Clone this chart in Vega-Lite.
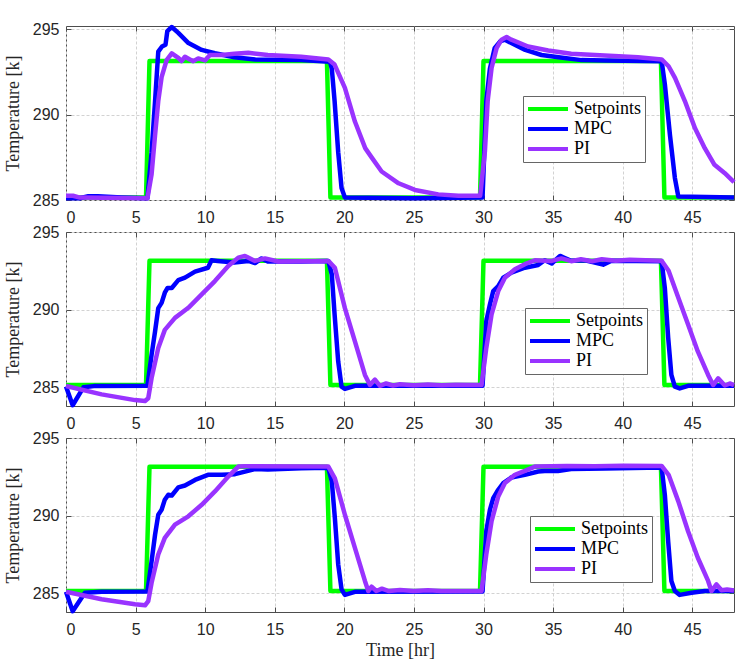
{
  "$schema": "https://vega.github.io/schema/vega-lite/v6.json",
  "padding": {"left": 3, "top": 20, "right": 10, "bottom": 5},
  "background": "white",
  "config": {
    "view": {"stroke": "#4d4d4d", "strokeWidth": 1},
    "axis": {
      "labelFont": "Liberation Sans",
      "labelFontSize": 16,
      "labelColor": "#262626",
      "titleFont": "Liberation Serif",
      "titleFontSize": 18,
      "titleFontWeight": "normal",
      "titleColor": "#262626",
      "grid": true,
      "gridDash": [3, 2],
      "gridColor": "#d2d2d2",
      "domain": false,
      "ticks": true,
      "tickSize": -5,
      "tickColor": "#4d4d4d"
    },
    "axisX": {"labelPadding": 14.5, "titlePadding": 4},
    "axisY": {"labelPadding": 12, "titlePadding": 10},
    "legend": {
      "title": null,
      "labelFont": "Liberation Serif",
      "labelFontSize": 18,
      "labelFontWeight": "normal",
      "labelColor": "black",
      "labelLimit": 200,
      "symbolType": "stroke",
      "symbolSize": 1600,
      "symbolStrokeWidth": 4,
      "fillColor": "white",
      "strokeColor": "#666666",
      "padding": 3,
      "clipHeight": 20,
      "rowPadding": 0,
      "labelOffset": 4
    }
  },
  "data": {
    "values": [
      {"p":1,"s":"Setpoints","t":0,"v":285.15},{"p":1,"s":"Setpoints","t":5.75,"v":285.15},{"p":1,"s":"Setpoints","t":6.0,"v":293.15},{"p":1,"s":"Setpoints","t":18.75,"v":293.15},{"p":1,"s":"Setpoints","t":19.0,"v":285.15},{"p":1,"s":"Setpoints","t":29.75,"v":285.15},{"p":1,"s":"Setpoints","t":30.0,"v":293.15},{"p":1,"s":"Setpoints","t":42.75,"v":293.15},{"p":1,"s":"Setpoints","t":43.0,"v":285.15},{"p":1,"s":"Setpoints","t":48,"v":285.15},

      {"p":1,"s":"MPC","t":0,"v":285.1},{"p":1,"s":"MPC","t":1.0,"v":285.1},{"p":1,"s":"MPC","t":1.6,"v":285.22},{"p":1,"s":"MPC","t":2.3,"v":285.22},{"p":1,"s":"MPC","t":4.0,"v":285.15},{"p":1,"s":"MPC","t":5.85,"v":285.1},{"p":1,"s":"MPC","t":6.15,"v":287.8},{"p":1,"s":"MPC","t":6.4,"v":290.8},{"p":1,"s":"MPC","t":6.63,"v":293.7},{"p":1,"s":"MPC","t":6.9,"v":294.0},{"p":1,"s":"MPC","t":7.15,"v":294.1},{"p":1,"s":"MPC","t":7.28,"v":294.9},{"p":1,"s":"MPC","t":7.6,"v":295.14},{"p":1,"s":"MPC","t":8.07,"v":294.8},{"p":1,"s":"MPC","t":8.8,"v":294.2},{"p":1,"s":"MPC","t":9.75,"v":293.8},{"p":1,"s":"MPC","t":10.7,"v":293.6},{"p":1,"s":"MPC","t":12.1,"v":293.37},{"p":1,"s":"MPC","t":13.6,"v":293.24},{"p":1,"s":"MPC","t":16.9,"v":293.2},{"p":1,"s":"MPC","t":18.97,"v":293.1},{"p":1,"s":"MPC","t":19.1,"v":292.7},{"p":1,"s":"MPC","t":19.3,"v":290.8},{"p":1,"s":"MPC","t":19.56,"v":287.8},{"p":1,"s":"MPC","t":19.8,"v":285.7},{"p":1,"s":"MPC","t":20.04,"v":285.14},{"p":1,"s":"MPC","t":25,"v":285.1},{"p":1,"s":"MPC","t":29.93,"v":285.14},{"p":1,"s":"MPC","t":30.2,"v":290.8},{"p":1,"s":"MPC","t":30.46,"v":292.7},{"p":1,"s":"MPC","t":30.8,"v":293.9},{"p":1,"s":"MPC","t":31.2,"v":294.3},{"p":1,"s":"MPC","t":31.54,"v":294.4},{"p":1,"s":"MPC","t":32.0,"v":294.2},{"p":1,"s":"MPC","t":33.0,"v":293.8},{"p":1,"s":"MPC","t":34.17,"v":293.5},{"p":1,"s":"MPC","t":35.4,"v":293.37},{"p":1,"s":"MPC","t":37.04,"v":293.2},{"p":1,"s":"MPC","t":38.7,"v":293.18},{"p":1,"s":"MPC","t":42.8,"v":293.14},{"p":1,"s":"MPC","t":43.03,"v":291.8},{"p":1,"s":"MPC","t":43.4,"v":288.8},{"p":1,"s":"MPC","t":43.75,"v":286.3},{"p":1,"s":"MPC","t":44.0,"v":285.2},{"p":1,"s":"MPC","t":48,"v":285.15},

      {"p":1,"s":"PI","t":0,"v":285.25},{"p":1,"s":"PI","t":0.5,"v":285.25},{"p":1,"s":"PI","t":1.0,"v":285.14},{"p":1,"s":"PI","t":5.85,"v":285.1},{"p":1,"s":"PI","t":6.15,"v":286.5},{"p":1,"s":"PI","t":6.4,"v":288.8},{"p":1,"s":"PI","t":6.63,"v":290.8},{"p":1,"s":"PI","t":6.87,"v":292.2},{"p":1,"s":"PI","t":7.23,"v":293.2},{"p":1,"s":"PI","t":7.6,"v":293.6},{"p":1,"s":"PI","t":8.07,"v":293.33},{"p":1,"s":"PI","t":8.3,"v":293.14},{"p":1,"s":"PI","t":8.55,"v":293.4},{"p":1,"s":"PI","t":8.9,"v":293.24},{"p":1,"s":"PI","t":9.15,"v":293.14},{"p":1,"s":"PI","t":9.5,"v":293.3},{"p":1,"s":"PI","t":9.99,"v":293.18},{"p":1,"s":"PI","t":10.34,"v":293.5},{"p":1,"s":"PI","t":11.2,"v":293.5},{"p":1,"s":"PI","t":12.1,"v":293.57},{"p":1,"s":"PI","t":13.1,"v":293.63},{"p":1,"s":"PI","t":14.5,"v":293.5},{"p":1,"s":"PI","t":16.9,"v":293.4},{"p":1,"s":"PI","t":18.85,"v":293.24},{"p":1,"s":"PI","t":19.3,"v":292.94},{"p":1,"s":"PI","t":20.04,"v":291.57},{"p":1,"s":"PI","t":20.76,"v":289.6},{"p":1,"s":"PI","t":21.5,"v":288.04},{"p":1,"s":"PI","t":21.96,"v":287.5},{"p":1,"s":"PI","t":22.68,"v":286.67},{"p":1,"s":"PI","t":23.9,"v":285.98},{"p":1,"s":"PI","t":25.07,"v":285.59},{"p":1,"s":"PI","t":26.75,"v":285.33},{"p":1,"s":"PI","t":28.2,"v":285.25},{"p":1,"s":"PI","t":29.76,"v":285.25},{"p":1,"s":"PI","t":30.1,"v":287.84},{"p":1,"s":"PI","t":30.3,"v":290.8},{"p":1,"s":"PI","t":30.58,"v":292.74},{"p":1,"s":"PI","t":30.94,"v":293.9},{"p":1,"s":"PI","t":31.3,"v":294.4},{"p":1,"s":"PI","t":31.66,"v":294.55},{"p":1,"s":"PI","t":32.0,"v":294.4},{"p":1,"s":"PI","t":33.2,"v":294.0},{"p":1,"s":"PI","t":34.65,"v":293.76},{"p":1,"s":"PI","t":36.3,"v":293.57},{"p":1,"s":"PI","t":38.7,"v":293.47},{"p":1,"s":"PI","t":41.1,"v":293.37},{"p":1,"s":"PI","t":42.8,"v":293.24},{"p":1,"s":"PI","t":43.3,"v":292.84},{"p":1,"s":"PI","t":43.76,"v":292.16},{"p":1,"s":"PI","t":44.47,"v":290.8},{"p":1,"s":"PI","t":45.2,"v":289.2},{"p":1,"s":"PI","t":45.9,"v":288.04},{"p":1,"s":"PI","t":46.6,"v":287.06},{"p":1,"s":"PI","t":47.34,"v":286.57},{"p":1,"s":"PI","t":48,"v":286.05},

      {"p":2,"s":"Setpoints","t":0,"v":285.15},{"p":2,"s":"Setpoints","t":5.75,"v":285.15},{"p":2,"s":"Setpoints","t":6.0,"v":293.15},{"p":2,"s":"Setpoints","t":18.75,"v":293.15},{"p":2,"s":"Setpoints","t":19.0,"v":285.15},{"p":2,"s":"Setpoints","t":29.75,"v":285.15},{"p":2,"s":"Setpoints","t":30.0,"v":293.15},{"p":2,"s":"Setpoints","t":42.75,"v":293.15},{"p":2,"s":"Setpoints","t":43.0,"v":285.15},{"p":2,"s":"Setpoints","t":48,"v":285.15},

      {"p":2,"s":"MPC","t":0,"v":285.05},{"p":2,"s":"MPC","t":0.48,"v":283.85},{"p":2,"s":"MPC","t":1.25,"v":285.0},{"p":2,"s":"MPC","t":2.0,"v":285.08},{"p":2,"s":"MPC","t":5.85,"v":285.1},{"p":2,"s":"MPC","t":6.15,"v":287.1},{"p":2,"s":"MPC","t":6.4,"v":288.6},{"p":2,"s":"MPC","t":6.63,"v":290.1},{"p":2,"s":"MPC","t":6.87,"v":290.44},{"p":2,"s":"MPC","t":7.1,"v":291.09},{"p":2,"s":"MPC","t":7.3,"v":291.4},{"p":2,"s":"MPC","t":7.6,"v":291.4},{"p":2,"s":"MPC","t":8.07,"v":291.9},{"p":2,"s":"MPC","t":8.55,"v":292.06},{"p":2,"s":"MPC","t":9.27,"v":292.45},{"p":2,"s":"MPC","t":10.2,"v":292.7},{"p":2,"s":"MPC","t":10.46,"v":293.18},{"p":2,"s":"MPC","t":10.9,"v":293.14},{"p":2,"s":"MPC","t":12.1,"v":293.03},{"p":2,"s":"MPC","t":13.1,"v":293.14},{"p":2,"s":"MPC","t":13.58,"v":293.0},{"p":2,"s":"MPC","t":14.05,"v":293.3},{"p":2,"s":"MPC","t":14.5,"v":293.1},{"p":2,"s":"MPC","t":16.9,"v":293.1},{"p":2,"s":"MPC","t":18.85,"v":293.14},{"p":2,"s":"MPC","t":19.1,"v":292.27},{"p":2,"s":"MPC","t":19.3,"v":289.7},{"p":2,"s":"MPC","t":19.56,"v":286.66},{"p":2,"s":"MPC","t":19.8,"v":285.05},{"p":2,"s":"MPC","t":20.04,"v":284.9},{"p":2,"s":"MPC","t":20.76,"v":285.1},{"p":2,"s":"MPC","t":29.93,"v":285.1},{"p":2,"s":"MPC","t":30.2,"v":289.25},{"p":2,"s":"MPC","t":30.46,"v":290.33},{"p":2,"s":"MPC","t":30.7,"v":291.2},{"p":2,"s":"MPC","t":31.06,"v":291.52},{"p":2,"s":"MPC","t":31.42,"v":292.06},{"p":2,"s":"MPC","t":32.0,"v":292.38},{"p":2,"s":"MPC","t":32.97,"v":292.7},{"p":2,"s":"MPC","t":33.93,"v":292.88},{"p":2,"s":"MPC","t":34.4,"v":293.18},{"p":2,"s":"MPC","t":34.9,"v":292.97},{"p":2,"s":"MPC","t":35.5,"v":293.46},{"p":2,"s":"MPC","t":36.3,"v":293.15},{"p":2,"s":"MPC","t":37.3,"v":293.18},{"p":2,"s":"MPC","t":38.6,"v":292.9},{"p":2,"s":"MPC","t":39.2,"v":293.15},{"p":2,"s":"MPC","t":42.8,"v":293.12},{"p":2,"s":"MPC","t":43.03,"v":291.4},{"p":2,"s":"MPC","t":43.27,"v":288.2},{"p":2,"s":"MPC","t":43.5,"v":285.8},{"p":2,"s":"MPC","t":43.75,"v":285.05},{"p":2,"s":"MPC","t":44.1,"v":284.93},{"p":2,"s":"MPC","t":44.7,"v":285.1},{"p":2,"s":"MPC","t":48,"v":285.1},

      {"p":2,"s":"PI","t":0,"v":285.09},{"p":2,"s":"PI","t":2.56,"v":284.55},{"p":2,"s":"PI","t":4.96,"v":284.18},{"p":2,"s":"PI","t":5.68,"v":284.12},{"p":2,"s":"PI","t":5.91,"v":284.3},{"p":2,"s":"PI","t":6.15,"v":285.6},{"p":2,"s":"PI","t":6.63,"v":287.53},{"p":2,"s":"PI","t":7.1,"v":288.7},{"p":2,"s":"PI","t":7.83,"v":289.47},{"p":2,"s":"PI","t":8.79,"v":290.12},{"p":2,"s":"PI","t":9.75,"v":290.98},{"p":2,"s":"PI","t":10.7,"v":291.84},{"p":2,"s":"PI","t":11.66,"v":292.81},{"p":2,"s":"PI","t":12.38,"v":293.35},{"p":2,"s":"PI","t":12.86,"v":293.46},{"p":2,"s":"PI","t":13.58,"v":293.14},{"p":2,"s":"PI","t":14.3,"v":293.3},{"p":2,"s":"PI","t":15.25,"v":293.1},{"p":2,"s":"PI","t":18.85,"v":293.14},{"p":2,"s":"PI","t":19.32,"v":292.7},{"p":2,"s":"PI","t":20.04,"v":290.1},{"p":2,"s":"PI","t":20.76,"v":287.96},{"p":2,"s":"PI","t":21.48,"v":285.8},{"p":2,"s":"PI","t":21.84,"v":285.15},{"p":2,"s":"PI","t":22.2,"v":285.5},{"p":2,"s":"PI","t":22.56,"v":285.1},{"p":2,"s":"PI","t":23.0,"v":285.25},{"p":2,"s":"PI","t":23.5,"v":285.12},{"p":2,"s":"PI","t":24.0,"v":285.2},{"p":2,"s":"PI","t":25.0,"v":285.13},{"p":2,"s":"PI","t":26.0,"v":285.18},{"p":2,"s":"PI","t":27.0,"v":285.13},{"p":2,"s":"PI","t":28.0,"v":285.17},{"p":2,"s":"PI","t":29.86,"v":285.15},{"p":2,"s":"PI","t":30.2,"v":287.53},{"p":2,"s":"PI","t":30.58,"v":289.69},{"p":2,"s":"PI","t":31.06,"v":291.2},{"p":2,"s":"PI","t":31.54,"v":292.06},{"p":2,"s":"PI","t":32.26,"v":292.6},{"p":2,"s":"PI","t":32.97,"v":292.93},{"p":2,"s":"PI","t":33.69,"v":293.18},{"p":2,"s":"PI","t":34.9,"v":293.14},{"p":2,"s":"PI","t":35.6,"v":293.3},{"p":2,"s":"PI","t":36.3,"v":293.12},{"p":2,"s":"PI","t":37.0,"v":293.25},{"p":2,"s":"PI","t":37.8,"v":293.12},{"p":2,"s":"PI","t":38.5,"v":293.25},{"p":2,"s":"PI","t":39.5,"v":293.15},{"p":2,"s":"PI","t":40.5,"v":293.22},{"p":2,"s":"PI","t":42.8,"v":293.15},{"p":2,"s":"PI","t":43.3,"v":292.5},{"p":2,"s":"PI","t":44.0,"v":290.77},{"p":2,"s":"PI","t":44.7,"v":289.04},{"p":2,"s":"PI","t":45.4,"v":287.31},{"p":2,"s":"PI","t":46.14,"v":285.8},{"p":2,"s":"PI","t":46.5,"v":285.15},{"p":2,"s":"PI","t":46.86,"v":285.58},{"p":2,"s":"PI","t":47.34,"v":285.12},{"p":2,"s":"PI","t":47.7,"v":285.25},{"p":2,"s":"PI","t":48,"v":285.15},

      {"p":3,"s":"Setpoints","t":0,"v":285.15},{"p":3,"s":"Setpoints","t":5.75,"v":285.15},{"p":3,"s":"Setpoints","t":6.0,"v":293.15},{"p":3,"s":"Setpoints","t":18.75,"v":293.15},{"p":3,"s":"Setpoints","t":19.0,"v":285.15},{"p":3,"s":"Setpoints","t":29.75,"v":285.15},{"p":3,"s":"Setpoints","t":30.0,"v":293.15},{"p":3,"s":"Setpoints","t":42.75,"v":293.15},{"p":3,"s":"Setpoints","t":43.0,"v":285.15},{"p":3,"s":"Setpoints","t":48,"v":285.15},

      {"p":3,"s":"MPC","t":0,"v":285.1},{"p":3,"s":"MPC","t":0.48,"v":283.85},{"p":3,"s":"MPC","t":1.36,"v":285.04},{"p":3,"s":"MPC","t":2.56,"v":285.1},{"p":3,"s":"MPC","t":5.85,"v":285.12},{"p":3,"s":"MPC","t":6.15,"v":287.07},{"p":3,"s":"MPC","t":6.4,"v":288.78},{"p":3,"s":"MPC","t":6.63,"v":290.06},{"p":3,"s":"MPC","t":6.87,"v":290.38},{"p":3,"s":"MPC","t":7.1,"v":291.03},{"p":3,"s":"MPC","t":7.35,"v":291.35},{"p":3,"s":"MPC","t":7.6,"v":291.3},{"p":3,"s":"MPC","t":8.07,"v":291.82},{"p":3,"s":"MPC","t":8.55,"v":291.94},{"p":3,"s":"MPC","t":9.27,"v":292.3},{"p":3,"s":"MPC","t":10.2,"v":292.63},{"p":3,"s":"MPC","t":11.18,"v":292.63},{"p":3,"s":"MPC","t":12.14,"v":292.67},{"p":3,"s":"MPC","t":12.86,"v":292.84},{"p":3,"s":"MPC","t":13.58,"v":293.0},{"p":3,"s":"MPC","t":14.5,"v":292.98},{"p":3,"s":"MPC","t":16.9,"v":293.06},{"p":3,"s":"MPC","t":18.85,"v":293.08},{"p":3,"s":"MPC","t":19.1,"v":292.2},{"p":3,"s":"MPC","t":19.32,"v":289.85},{"p":3,"s":"MPC","t":19.56,"v":286.86},{"p":3,"s":"MPC","t":19.8,"v":285.26},{"p":3,"s":"MPC","t":20.04,"v":284.9},{"p":3,"s":"MPC","t":20.76,"v":285.1},{"p":3,"s":"MPC","t":29.93,"v":285.12},{"p":3,"s":"MPC","t":30.2,"v":289.0},{"p":3,"s":"MPC","t":30.46,"v":290.38},{"p":3,"s":"MPC","t":30.7,"v":291.13},{"p":3,"s":"MPC","t":31.06,"v":291.67},{"p":3,"s":"MPC","t":31.42,"v":292.1},{"p":3,"s":"MPC","t":32.0,"v":292.46},{"p":3,"s":"MPC","t":32.97,"v":292.63},{"p":3,"s":"MPC","t":33.93,"v":292.84},{"p":3,"s":"MPC","t":34.4,"v":292.88},{"p":3,"s":"MPC","t":35.35,"v":292.88},{"p":3,"s":"MPC","t":36.3,"v":293.0},{"p":3,"s":"MPC","t":38.7,"v":293.04},{"p":3,"s":"MPC","t":42.8,"v":293.1},{"p":3,"s":"MPC","t":43.03,"v":291.35},{"p":3,"s":"MPC","t":43.27,"v":288.35},{"p":3,"s":"MPC","t":43.5,"v":285.8},{"p":3,"s":"MPC","t":43.75,"v":285.15},{"p":3,"s":"MPC","t":44.1,"v":284.9},{"p":3,"s":"MPC","t":44.95,"v":285.04},{"p":3,"s":"MPC","t":45.9,"v":285.15},{"p":3,"s":"MPC","t":48,"v":285.15},

      {"p":3,"s":"PI","t":0,"v":285.1},{"p":3,"s":"PI","t":2.56,"v":284.62},{"p":3,"s":"PI","t":4.96,"v":284.3},{"p":3,"s":"PI","t":5.68,"v":284.23},{"p":3,"s":"PI","t":5.91,"v":284.5},{"p":3,"s":"PI","t":6.15,"v":285.68},{"p":3,"s":"PI","t":6.63,"v":287.5},{"p":3,"s":"PI","t":7.1,"v":288.57},{"p":3,"s":"PI","t":7.83,"v":289.42},{"p":3,"s":"PI","t":8.79,"v":289.96},{"p":3,"s":"PI","t":9.75,"v":290.7},{"p":3,"s":"PI","t":10.7,"v":291.56},{"p":3,"s":"PI","t":11.66,"v":292.52},{"p":3,"s":"PI","t":12.38,"v":293.16},{"p":3,"s":"PI","t":12.86,"v":293.18},{"p":3,"s":"PI","t":18.85,"v":293.16},{"p":3,"s":"PI","t":19.32,"v":292.4},{"p":3,"s":"PI","t":20.04,"v":290.06},{"p":3,"s":"PI","t":20.76,"v":287.93},{"p":3,"s":"PI","t":21.48,"v":285.8},{"p":3,"s":"PI","t":21.72,"v":285.15},{"p":3,"s":"PI","t":21.96,"v":285.43},{"p":3,"s":"PI","t":22.3,"v":285.15},{"p":3,"s":"PI","t":22.7,"v":285.3},{"p":3,"s":"PI","t":23.2,"v":285.15},{"p":3,"s":"PI","t":24.0,"v":285.22},{"p":3,"s":"PI","t":25.0,"v":285.15},{"p":3,"s":"PI","t":26.0,"v":285.2},{"p":3,"s":"PI","t":27.0,"v":285.15},{"p":3,"s":"PI","t":29.86,"v":285.15},{"p":3,"s":"PI","t":30.2,"v":287.5},{"p":3,"s":"PI","t":30.58,"v":289.64},{"p":3,"s":"PI","t":31.06,"v":291.24},{"p":3,"s":"PI","t":31.54,"v":292.1},{"p":3,"s":"PI","t":32.26,"v":292.63},{"p":3,"s":"PI","t":32.97,"v":292.88},{"p":3,"s":"PI","t":33.69,"v":293.16},{"p":3,"s":"PI","t":36.0,"v":293.2},{"p":3,"s":"PI","t":38.0,"v":293.18},{"p":3,"s":"PI","t":40.0,"v":293.22},{"p":3,"s":"PI","t":42.8,"v":293.2},{"p":3,"s":"PI","t":43.3,"v":292.63},{"p":3,"s":"PI","t":44.0,"v":290.92},{"p":3,"s":"PI","t":44.7,"v":289.0},{"p":3,"s":"PI","t":45.4,"v":287.29},{"p":3,"s":"PI","t":46.14,"v":285.8},{"p":3,"s":"PI","t":46.38,"v":285.15},{"p":3,"s":"PI","t":46.74,"v":285.58},{"p":3,"s":"PI","t":47.1,"v":285.2},{"p":3,"s":"PI","t":47.5,"v":285.25},{"p":3,"s":"PI","t":48,"v":285.18}
    ]
  },
  "spacing": 32,
  "bounds": "flush",
  "resolve": {"legend": {"color": "independent"}, "scale": {"y": "independent"}},
  "vconcat": [
    {
      "width": 668,
      "height": 174,
      "transform": [{"filter": "datum.p == 1"}],
      "resolve": {"axis": {"x": "independent", "y": "independent"}},
      "layer": [
        {
          "mark": {"type": "line", "strokeWidth": 4.5, "strokeJoin": "round"},
          "encoding": {
            "x": {"field": "t", "type": "quantitative", "scale": {"domain": [0, 48], "nice": false}, "axis": {"values": [0, 5, 10, 15, 20, 25, 30, 35, 40, 45], "title": null}},
            "y": {"field": "v", "type": "quantitative", "scale": {"domain": [285, 295.2], "nice": false, "zero": false}, "axis": {"values": [285, 290, 295], "title": "Temperature [k]"}},
            "color": {"field": "s", "type": "nominal", "sort": null, "scale": {"domain": ["Setpoints", "MPC", "PI"], "range": ["#00ff00", "#0000ff", "#9933ff"]}, "legend": {"orient": "none", "legendX": 457, "legendY": 70, "labelFont": "Liberation Serif", "labelFontSize": 18, "labelFontWeight": "normal"}}
          }
        },
        {
          "mark": {"type": "line", "opacity": 0},
          "encoding": {
            "x": {"field": "t", "type": "quantitative", "axis": {"orient": "top", "values": [0, 5, 10, 15, 20, 25, 30, 35, 40, 45], "labels": false, "grid": false, "title": null}},
            "y": {"field": "v", "type": "quantitative", "axis": {"orient": "right", "values": [285, 290, 295], "labels": false, "grid": false, "title": null}},
            "detail": {"field": "s"}
          }
        }
      ]
    },
    {
      "width": 668,
      "height": 174,
      "transform": [{"filter": "datum.p == 2"}],
      "resolve": {"axis": {"x": "independent", "y": "independent"}},
      "layer": [
        {
          "mark": {"type": "line", "strokeWidth": 4.5, "strokeJoin": "round"},
          "encoding": {
            "x": {"field": "t", "type": "quantitative", "scale": {"domain": [0, 48], "nice": false}, "axis": {"values": [0, 5, 10, 15, 20, 25, 30, 35, 40, 45], "title": null}},
            "y": {"field": "v", "type": "quantitative", "scale": {"domain": [283.8, 295], "nice": false, "zero": false}, "axis": {"values": [285, 290, 295], "title": "Temperature [k]"}},
            "color": {"field": "s", "type": "nominal", "sort": null, "scale": {"domain": ["Setpoints", "MPC", "PI"], "range": ["#00ff00", "#0000ff", "#9933ff"]}, "legend": {"orient": "none", "legendX": 459, "legendY": 76, "labelFont": "Liberation Serif", "labelFontSize": 18, "labelFontWeight": "normal"}}
          }
        },
        {
          "mark": {"type": "line", "opacity": 0},
          "encoding": {
            "x": {"field": "t", "type": "quantitative", "axis": {"orient": "top", "values": [0, 5, 10, 15, 20, 25, 30, 35, 40, 45], "labels": false, "grid": false, "title": null}},
            "y": {"field": "v", "type": "quantitative", "axis": {"orient": "right", "values": [285, 290, 295], "labels": false, "grid": false, "title": null}},
            "detail": {"field": "s"}
          }
        }
      ]
    },
    {
      "width": 668,
      "height": 174,
      "transform": [{"filter": "datum.p == 3"}],
      "resolve": {"axis": {"x": "independent", "y": "independent"}},
      "layer": [
        {
          "mark": {"type": "line", "strokeWidth": 4.5, "strokeJoin": "round"},
          "encoding": {
            "x": {"field": "t", "type": "quantitative", "scale": {"domain": [0, 48], "nice": false}, "axis": {"values": [0, 5, 10, 15, 20, 25, 30, 35, 40, 45], "title": "Time [hr]"}},
            "y": {"field": "v", "type": "quantitative", "scale": {"domain": [283.8, 295], "nice": false, "zero": false}, "axis": {"values": [285, 290, 295], "title": "Temperature [k]"}},
            "color": {"field": "s", "type": "nominal", "sort": null, "scale": {"domain": ["Setpoints", "MPC", "PI"], "range": ["#00ff00", "#0000ff", "#9933ff"]}, "legend": {"orient": "none", "legendX": 464, "legendY": 78, "labelFont": "Liberation Serif", "labelFontSize": 18, "labelFontWeight": "normal"}}
          }
        },
        {
          "mark": {"type": "line", "opacity": 0},
          "encoding": {
            "x": {"field": "t", "type": "quantitative", "axis": {"orient": "top", "values": [0, 5, 10, 15, 20, 25, 30, 35, 40, 45], "labels": false, "grid": false, "title": null}},
            "y": {"field": "v", "type": "quantitative", "axis": {"orient": "right", "values": [285, 290, 295], "labels": false, "grid": false, "title": null}},
            "detail": {"field": "s"}
          }
        }
      ]
    }
  ]
}
